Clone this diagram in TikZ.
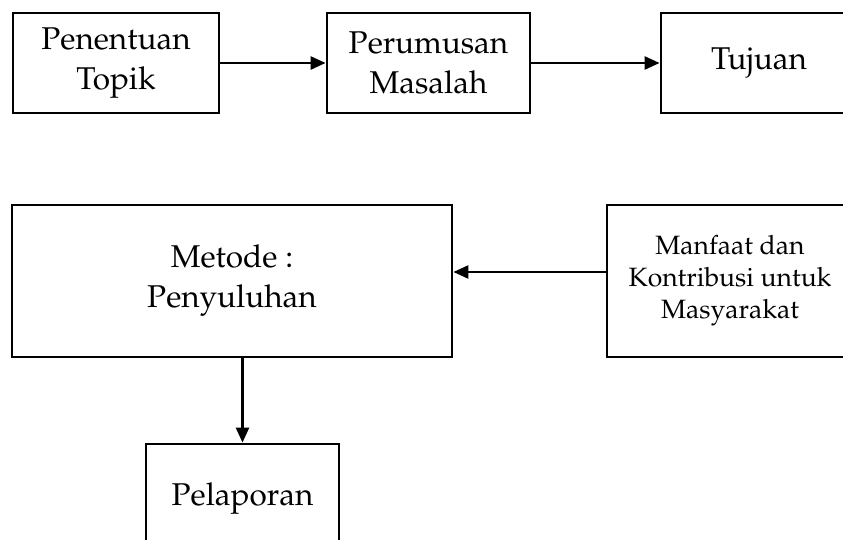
\documentclass[tikz,border=0pt]{standalone}
\usepackage[T1]{fontenc}
\usepackage{mathpazo}
\usetikzlibrary{arrows.meta}
\tikzset{
  bigtext/.style={font=\fontsize{31.5}{40}\selectfont},
  box/.style={draw, line width=2.8pt, rectangle, align=center, inner sep=0pt, bigtext},
  smallbox/.style={box, font=\fontsize{26.5}{32}\selectfont},
  arr/.style={line width=2.5pt, -{Triangle[length=15pt,width=13pt]}}
}
\begin{document}
\begin{tikzpicture}[x=1pt,y=-1pt]
\useasboundingbox (0,0) rectangle (843,540);
\clip (0,0) rectangle (843,540);
\node[box, minimum width=206, minimum height=100] (pen) at (116,63) {Penentuan\\Topik};
\node[box, minimum width=203, minimum height=100] (per) at (428.5,63) {Perumusan\\Masalah};
\node[box, minimum width=196, minimum height=100] (tuj) at (759,63) {Tujuan};
\node[box, minimum width=440, minimum height=152] (met) at (232,281) {\raisebox{-4pt}{Metode :}\\\raisebox{-4pt}{Penyuluhan}};
\node[smallbox, minimum width=246, minimum height=152] (man) at (730,281) {Manfaat dan\\Kontribusi untuk\\Masyarakat};
\node[box, minimum width=193, minimum height=140] (pel) at (242.5,514) {};
\node[bigtext, anchor=base] at (242.5,505) {Pelaporan};
\draw[arr] (pen.east) -- (per.west);
\draw[arr] (per.east) -- (tuj.west);
\draw[arr] (man.west |- 0,272) -- (met.east |- 0,272);
\draw[arr] (met.south -| pel.north) -- (pel.north);
\end{tikzpicture}
\end{document}
